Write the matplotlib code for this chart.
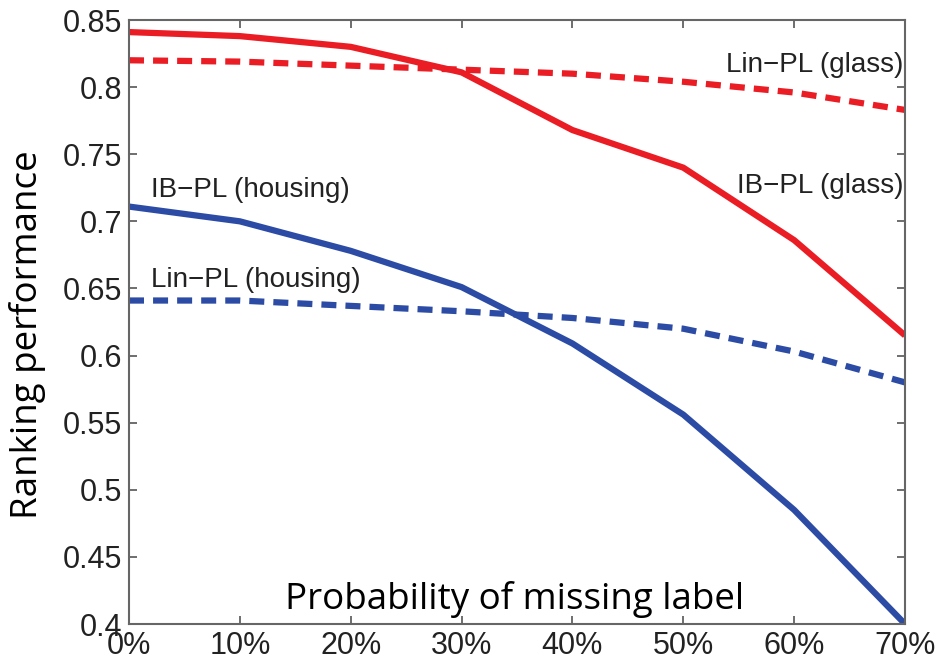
import numpy as np
import matplotlib.pyplot as plt
from matplotlib.ticker import FuncFormatter

# missing-label probability (%)
missing = [0, 10, 20, 30, 40, 50, 60, 70]

ib_glass = [0.841, 0.838, 0.830, 0.811, 0.768, 0.740, 0.686, 0.615]
lin_glass = [0.820, 0.819, 0.816, 0.813, 0.810, 0.804, 0.796, 0.783]
ib_housing = [0.711, 0.700, 0.678, 0.651, 0.609, 0.556, 0.485, 0.400]
lin_housing = [0.641, 0.641, 0.637, 0.633, 0.628, 0.620, 0.603, 0.580]

red = "#EA1D25"
blue = "#2B4BA5"


def main() -> None:
    fig = plt.figure(figsize=(9.38, 6.64), dpi=100)
    ax = fig.add_axes([129 / 938, 1 - 624 / 664, 776 / 938, 604 / 664])

    lw = 4.5
    dash = (0, (2.4, 1.45))
    ax.plot(missing, ib_glass, color=red, lw=lw, solid_capstyle="butt")
    ax.plot(missing, lin_glass, color=red, lw=lw, ls=dash, dash_capstyle="butt")
    ax.plot(missing, ib_housing, color=blue, lw=lw, solid_capstyle="butt")
    ax.plot(missing, lin_housing, color=blue, lw=lw, ls=dash, dash_capstyle="butt")

    ax.set_xlim(0, 70)
    ax.set_ylim(0.4, 0.85)
    ax.set_xticks(missing)
    ax.xaxis.set_major_formatter(FuncFormatter(lambda v, p: f"{v:.0f}%"))
    ax.set_yticks(np.round(np.arange(0.4, 0.851, 0.05), 2))
    ax.yaxis.set_major_formatter(FuncFormatter(lambda v, p: f"{v:g}"))

    tick_font = "Liberation Sans"
    ax.tick_params(direction="in", top=True, right=True, length=6, width=1.2,
                   color="#555555", labelsize=22, labelcolor="#222222", pad=5)
    for lab in ax.get_xticklabels() + ax.get_yticklabels():
        lab.set_fontfamily(tick_font)
    for s in ax.spines.values():
        s.set_color("#666666")
        s.set_linewidth(1.5)

    txt = dict(fontsize=20, color="#222222", family=tick_font)
    ax.text(69.85, 0.8165, "Lin\u2212PL (glass)", ha="right", va="center", **txt)
    ax.text(69.85, 0.726, "IB\u2212PL (glass)", ha="right", va="center", **txt)
    ax.text(2.0, 0.723, "IB\u2212PL (housing)", ha="left", va="center", **txt)
    ax.text(2.0, 0.656, "Lin\u2212PL (housing)", ha="left", va="center", **txt)

    ax.text(0.497, 0.04, "Probability of missing label", transform=ax.transAxes,
            ha="center", va="center", fontsize=26.5, family="Open Sans", color="black")
    fig.text(28 / 938, 1 - 335 / 664, "Ranking performance", rotation=90,
             ha="center", va="center", fontsize=26.5, family="Open Sans", color="black")

    fig.savefig("out.png", dpi=100)


if __name__ == "__main__":
    main()
